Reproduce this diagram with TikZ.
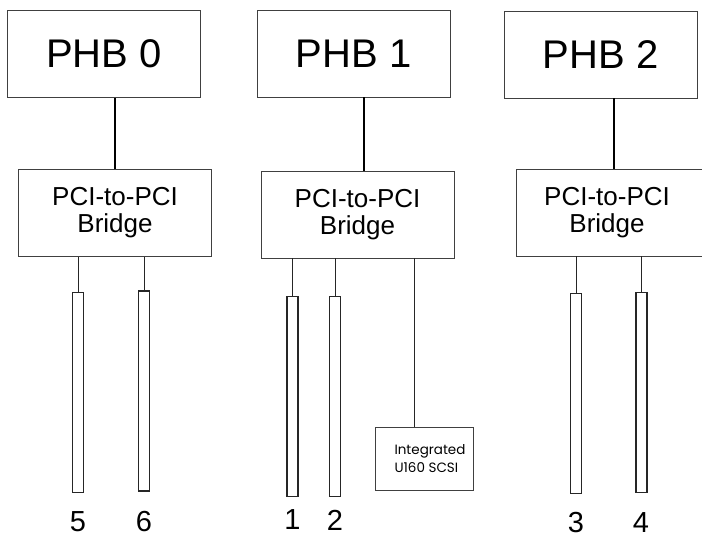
\documentclass[tikz,border=0pt]{standalone}
\usepackage{fontspec}
\setmainfont{Liberation Sans}
\newfontfamily\scsifont{Poppins}
\begin{document}
\begin{tikzpicture}[x=1pt,y=-1pt,
  box/.style={draw=black!75,line width=0.9pt,rectangle,inner sep=0pt},
  phbbox/.style={box,minimum width=193pt,minimum height=87pt,font=\fontsize{40}{42}\selectfont},
  brbox/.style={box,minimum width=193pt,minimum height=87pt,align=center,font=\fontsize{26}{27}\selectfont},
  slotbox/.style={draw=black!85,line width=1.1pt,rectangle,inner sep=0pt,minimum width=11pt,minimum height=200pt},
  conn/.style={draw=black,line width=1.2pt},
  slotlink/.style={draw=black!85,line width=0.9pt},
  num/.style={inner sep=0pt,font=\fontsize{29}{31}\selectfont}]
\clip (0,0) rectangle (702,540);
\useasboundingbox (0,0) rectangle (702,540);
% PHBs
\node[phbbox] (phb0) at (104,54) {PHB 0};
\node[phbbox] (phb1) at (353.5,53.5) {PHB 1};
\node[phbbox] (phb2) at (600.5,54.5) {PHB 2};
% bridges
\node[brbox] (br0) at (115,213) {PCI-to-PCI\\Bridge};
\node[brbox] (br1) at (357.5,214.5) {PCI-to-PCI\\Bridge};
\node[brbox,minimum width=196pt] (br2) at (614,212.5) {\hspace*{-14pt}PCI-to-PCI\\\hspace*{-14pt}Bridge};
% slots
\node[slotbox] (s5) at (78,392.5) {};
\node[slotbox] (s6) at (144,391) {};
\node[slotbox] (s1) at (292.5,396.5) {};
\node[slotbox] (s2) at (335,396.5) {};
\node[slotbox] (s3) at (576,393.5) {};
\node[slotbox] (s4) at (641.5,392.5) {};
% integrated scsi
\node[box,minimum width=98pt,minimum height=63pt,align=left,font=\scsifont\fontsize{13.5}{18}\selectfont] (scsi) at (424,458.5) {\hspace*{12pt}Integrated\\\hspace*{12pt}U160 SCSI};
% PHB to bridge
\draw[conn] (br0.north) -- (br0.north |- phb0.south);
\draw[conn] ([xshift=6.5pt]br1.north) -- ([xshift=6.5pt]br1.north |- phb1.south);
\draw[conn] (br2.north) -- (br2.north |- phb2.south);
% bridge to slots
\foreach \s/\b in {s5/br0,s6/br0,s1/br1,s2/br1,s3/br2,s4/br2}
  \draw[slotlink] (\s.north) -- (\s.north |- \b.south);
\draw[slotlink] ([xshift=-10pt]scsi.north) -- ([xshift=-10pt]scsi.north |- br1.south);
% labels
\node[num] (l5) at (78,522) {5};
\node[num] (l6) at (144,522) {6};
\node[num] (l1) at (292.5,520) {1};
\node[num] (l2) at (335,520) {2};
\node[num] (l3) at (576,523) {3};
\node[num] (l4) at (641,523) {4};
\end{tikzpicture}
\end{document}
